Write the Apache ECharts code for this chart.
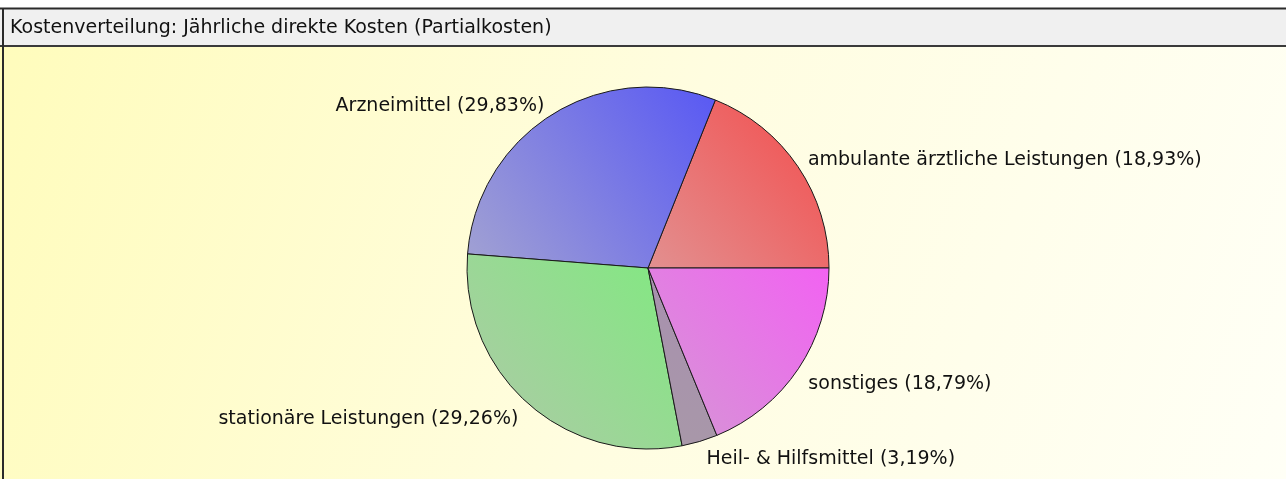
<!DOCTYPE html>
<html>
<head>
<meta charset="utf-8">
<script src="https://cdn.jsdelivr.net/npm/echarts@6/dist/echarts.min.js"></script>
<style>
html, body { margin: 0; padding: 0; background: #fff; }
#chart { width: 1286px; height: 479px; }
</style>
</head>
<body>
<div id="chart"></div>
<script>
// Daten: Anteile in Prozent
var categories = ['ambulante ärztliche Leistungen', 'Arzneimittel', 'stationäre Leistungen', 'Heil- & Hilfsmittel', 'sonstiges'];
var shares = [18.93, 29.83, 29.26, 3.19, 18.79];
var colorsPale = ['#e29090', '#a2a2d2', '#b0c8a8', '#a898a8', '#d498d4'];
var colorsStrong = ['#f44c4c', '#5858f4', '#80ea80', '#a890b0', '#f262f2'];

var titleText = 'Kostenverteilung: Jährliche direkte Kosten (Partialkosten)';

var pieData = [];
for (var i = 0; i < categories.length; i++) {
    pieData.push({
        name: categories[i],
        value: shares[i],
        itemStyle: {
            color: {
                type: 'linear', x: 0, y: 1, x2: 1, y2: 0,
                colorStops: [
                    { offset: 0, color: colorsPale[i] },
                    { offset: 1, color: colorsStrong[i] }
                ]
            }
        }
    });
}

var chart = echarts.init(document.getElementById('chart'));
var chartSettings = {
    animation: false,
    graphic: [
        // gelber Hintergrund
        {
            type: 'rect', z: -10, silent: true,
            shape: { x: 0, y: 47, width: 1286, height: 432 },
            style: {
                fill: {
                    type: 'linear', x: 0, y: 0, x2: 1, y2: 1,
                    colorStops: [
                        { offset: 0, color: '#fffcbc' },
                        { offset: 0.5, color: '#fffde0' },
                        { offset: 1, color: '#fffff6' }
                    ]
                }
            }
        },
        // Titelleiste
        {
            type: 'rect', z: -9, silent: true,
            shape: { x: 0, y: 9, width: 1286, height: 37 },
            style: { fill: '#f0f0f0' }
        },
        { type: 'line', z: -8, silent: true, shape: { x1: 0, y1: 8.5, x2: 1286, y2: 8.5 }, style: { stroke: '#2a2a2a', lineWidth: 2 } },
        { type: 'line', z: -8, silent: true, shape: { x1: 0, y1: 46, x2: 1286, y2: 46 }, style: { stroke: '#3a3a3a', lineWidth: 2 } },
        { type: 'line', z: -8, silent: true, shape: { x1: 3, y1: 8, x2: 3, y2: 479 }, style: { stroke: '#2a2a2a', lineWidth: 2 } },
        {
            type: 'text', z: -7, silent: true, x: 10, y: 28,
            style: { text: titleText, font: '19px "DejaVu Sans"', fill: '#111', verticalAlign: 'middle' }
        }
    ],
    series: [{
        type: 'pie',
        center: [648, 268],
        radius: [0, 181],
        startAngle: 0,
        clockwise: false,
        avoidLabelOverlap: false,
        data: pieData,
        itemStyle: { borderColor: '#1a1a1a', borderWidth: 1 },
        label: {
            show: true,
            position: 'outside',
            color: '#111',
            fontFamily: 'DejaVu Sans',
            fontSize: 19,
            formatter: function(p) {
                return p.name + ' (' + p.value.toFixed(2).replace('.', ',') + '%)';
            }
        },
        labelLine: { show: false, length: 6, length2: 0 },
        // obere Beschriftungen etwas hoch, untere etwas runter
        labelLayout: function(params) {
            return { dy: params.dataIndex < 2 ? -3 : 12 };
        },
        emphasis: { disabled: true }
    }]
};
chart.setOption(chartSettings);
</script>
</body>
</html>
